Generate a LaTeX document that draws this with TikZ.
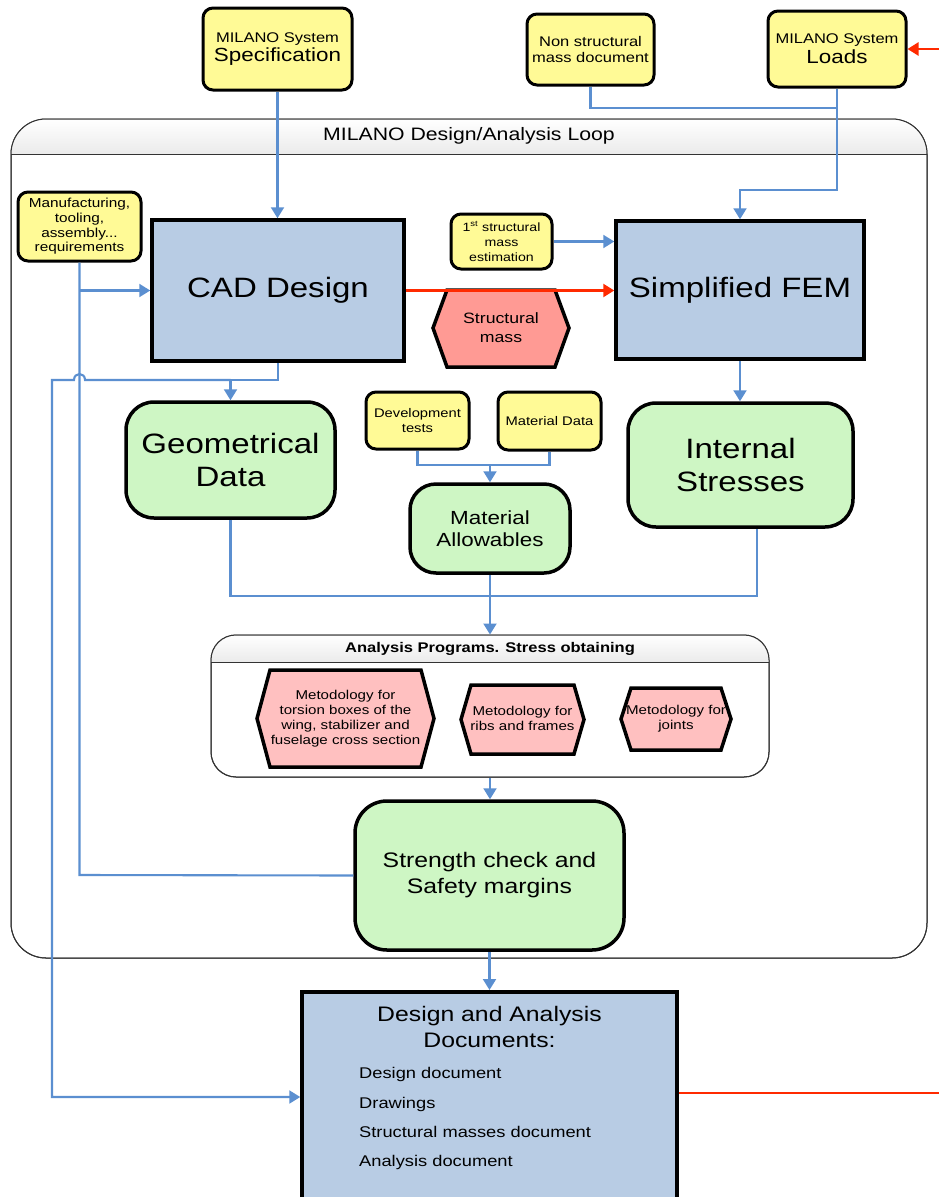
\documentclass[tikz,border=0pt]{standalone}
\usepackage{fontspec}
\setmainfont{Liberation Sans}[FakeStretch=1.18]
\usetikzlibrary{arrows.meta,calc}
\definecolor{yel}{HTML}{FFFA96}
\definecolor{blu}{HTML}{B8CCE4}
\definecolor{grn}{HTML}{CEF6C4}
\definecolor{smass}{HTML}{FF9A94}
\definecolor{meth}{HTML}{FFC0C0}
\definecolor{connc}{HTML}{5B8FD0}
\definecolor{redl}{HTML}{FF2A00}
\newcommand\fs[2]{\fontsize{#1}{#2}\selectfont}
\begin{document}
\begin{tikzpicture}[x=1pt,y=-1pt,
  ybox/.style={draw=black, line width=3pt, fill=yel, rounded corners=10pt, align=center, inner sep=0pt},
  bbox/.style={draw=black, line width=3.5pt, fill=blu, align=center, inner sep=0pt},
  gbox/.style={draw=black, line width=3.5pt, fill=grn, rounded corners=28pt, align=center, inner sep=0pt},
  hexs/.style={draw=black, line width=3.5pt, line join=miter},
  txt/.style={align=center, inner sep=0pt},
  cont/.style={draw=black!80, line width=1pt},
  bline/.style={draw=connc, line width=2.1pt},
  rline/.style={draw=redl, line width=2.4pt},
  barrow/.style={-{Triangle[length=11pt,width=13pt]}},
]
\useasboundingbox (0,0) rectangle (939,1197);
\clip (0,0) rectangle (939,1197);

% ---------- loop container ----------
\node[cont, fill=white, rounded corners=35pt, minimum width=916pt, minimum height=839pt, inner sep=0pt] (loop) at (469,538.5) {};
\begin{scope}
  \clip[rounded corners=35pt] (11,119) rectangle (927,958);
  \shade[top color=white, bottom color=black!8] (11,119) rectangle (927,154);
\end{scope}
\draw[cont] (11,154) -- (927,154);
\draw[cont, rounded corners=35pt] (11,119) rectangle (927,958);
\node[font=\fs{18}{22}, inner sep=0pt] (looptitle) at (469,136) {MILANO Design/Analysis Loop};

% ---------- analysis programs container ----------
\node[cont, fill=white, rounded corners=25pt, minimum width=558pt, minimum height=142pt, inner sep=0pt] (progs) at (490,706) {};
\begin{scope}
  \clip[rounded corners=25pt] (211,635) rectangle (769,777);
  \shade[top color=white, bottom color=black!8] (211,635) rectangle (769,662);
\end{scope}
\draw[cont] (211,662) -- (769,662);
\draw[cont, rounded corners=25pt] (211,635) rectangle (769,777);
\node[font=\bfseries\fs{14}{16}, inner sep=0pt] (progstitle) at (490,649) {Analysis Programs. Stress obtaining};

% ---------- top inputs ----------
\node[ybox, minimum width=149pt, minimum height=82pt, font=\fs{14}{19}] (spec) at (277.5,49)
  {MILANO System\\{\fs{19}{19}Specification}};
\node[ybox, minimum width=127pt, minimum height=71pt, font=\fs{14}{16}] (nonstr) at (590.5,49.5)
  {Non structural\\mass document};
\node[ybox, minimum width=138pt, minimum height=76pt, font=\fs{14}{20}] (loads) at (837,49)
  {MILANO System\\{\fs{19}{19}Loads}};

% ---------- loop nodes ----------
\node[ybox, minimum width=123pt, minimum height=69pt, font=\fs{13}{14.7}] (manuf) at (79.5,226.5)
  {Manufacturing,\\tooling,\\assembly...\\requirements};
\node[bbox, minimum width=252pt, minimum height=141pt, font=\fs{28}{33}] (cad) at (278,290.5) {CAD Design};
\node[ybox, minimum width=101pt, minimum height=55pt, font=\fs{12}{15}] (first) at (501.5,241.5)
  {1\textsuperscript{st} structural\\mass\\estimation};
\node[bbox, minimum width=248pt, minimum height=138pt, font=\fs{28}{33}] (fem) at (740,290) {Simplified FEM};

\draw[hexs, fill=smass] (433,328) -- (447,290) -- (555,290) -- (569,328) -- (555,367) -- (447,367) -- cycle;
\node[txt, font=\fs{15}{19}] (smassn) at (501,327.5) {Structural\\mass};

\node[gbox, minimum width=209pt, minimum height=116pt, font=\fs{28}{33}] (geo) at (230.5,460) {Geometrical\\Data};
\node[ybox, minimum width=103pt, minimum height=57pt, font=\fs{12.5}{15}] (dev) at (417.5,420.5) {Development\\tests};
\node[ybox, minimum width=103pt, minimum height=58pt, font=\fs{12.5}{15}] (matd) at (549.5,421) {Material Data};
\node[gbox, rounded corners=26pt, minimum width=160pt, minimum height=89pt, font=\fs{19}{22}] (allow) at (490,528.5) {Material\\Allowables};
\node[gbox, minimum width=225pt, minimum height=124pt, font=\fs{28}{33}] (intern) at (740.5,465) {Internal\\Stresses};

% hexagons in analysis programs
\draw[hexs, fill=meth] (257,718.5) -- (270,670) -- (421,670) -- (434,718.5) -- (421,767) -- (270,767) -- cycle;
\node[txt, font=\fs{12.8}{15}] (hexA) at (345.5,718.5) {Metodology for\\torsion boxes of the\\wing, stabilizer and\\fuselage cross section};
\draw[hexs, fill=meth] (461,719.5) -- (471,685) -- (574,685) -- (584,719.5) -- (574,754) -- (471,754) -- cycle;
\node[txt, font=\fs{12.8}{15}] (hexB) at (522.5,718.5) {Metodology for\\ribs and frames};
\draw[hexs, fill=meth] (621,719) -- (631,688) -- (721,688) -- (731,719) -- (721,750) -- (631,750) -- cycle;
\node[txt, font=\fs{12.8}{15}] (hexC) at (676,718.5) {Metodology for\\joints};

\node[gbox, rounded corners=32pt, minimum width=269pt, minimum height=149pt, font=\fs{21}{26}] (strength) at (489.5,875.5) {Strength check and\\Safety margins};

% ---------- documents ----------
\node[bbox, anchor=north, minimum width=375pt, minimum height=240pt] (docs) at (489.5,990) {};
\node[txt, font=\fs{21}{26}] (docstitle) at (489.5,1027) {Design and Analysis\\Documents:};
\node[inner sep=0pt, anchor=base west, font=\fs{15.5}{18}] (doc1) at (359,1078.5) {Design document};
\node[inner sep=0pt, anchor=base west, font=\fs{15.5}{18}] (doc2) at (359,1108) {Drawings};
\node[inner sep=0pt, anchor=base west, font=\fs{15.5}{18}] (doc3) at (359,1137.5) {Structural masses document};
\node[inner sep=0pt, anchor=base west, font=\fs{15.5}{18}] (doc4) at (359,1166.5) {Analysis document};

% ---------- connectors ----------
\coordinate (j1) at (837,108);
\coordinate (j2) at (837,190);
\coordinate (m1) at (79.5,875);
\coordinate (m2) at (79.5,290.5);
\coordinate (c1) at (278,380);
\coordinate (c2) at (52,1097);
\coordinate (g1) at (757,596);
\coordinate (d1) at (490,465);
\coordinate (r1) at (945,49);
\coordinate (r2) at (945,1093);

\draw[bline, barrow] (spec.south) -- (spec.south |- cad.north);
\draw[bline] (nonstr.south) |- (j1);
\draw[bline, barrow] (loads.south) -- (j2) -| (fem.north);
\draw[bline, barrow] (first.east) -- (first.east -| fem.west);
\draw[rline, barrow] (cad.east) -- (cad.east -| fem.west);
\draw[bline] (strength.west) -- (m1) -- (manuf.south);
\draw[bline, barrow] (m2) -- (cad.west);
\draw[bline, barrow] (cad.south) -- (c1) -| (geo.north);
\draw[bline, barrow] (geo.north |- c1) -- (85,380) .. controls (85,372) and (74,372) .. (74,380) -- (52,380) -- (c2) -- (c2 -| docs.west);
\draw[bline] (geo.south) |- (g1) -- (g1 |- intern.south);
\draw[bline, barrow] (allow.south) -- (allow.south |- progs.north);
\draw[bline] (dev.south) |- (matd.south |- d1) -- (matd.south);
\draw[bline, barrow] (d1) -- (allow.north);
\draw[bline, barrow] (fem.south) -- (fem.south |- intern.north);
\draw[bline, barrow] (progs.south) -- (progs.south |- strength.north);
\draw[bline, barrow] (strength.south) -- (docs.north);
\draw[rline, barrow] (r1) -- (loads.east);
\draw[rline] (r2 -| docs.east) -- (r2);
\end{tikzpicture}
\end{document}
